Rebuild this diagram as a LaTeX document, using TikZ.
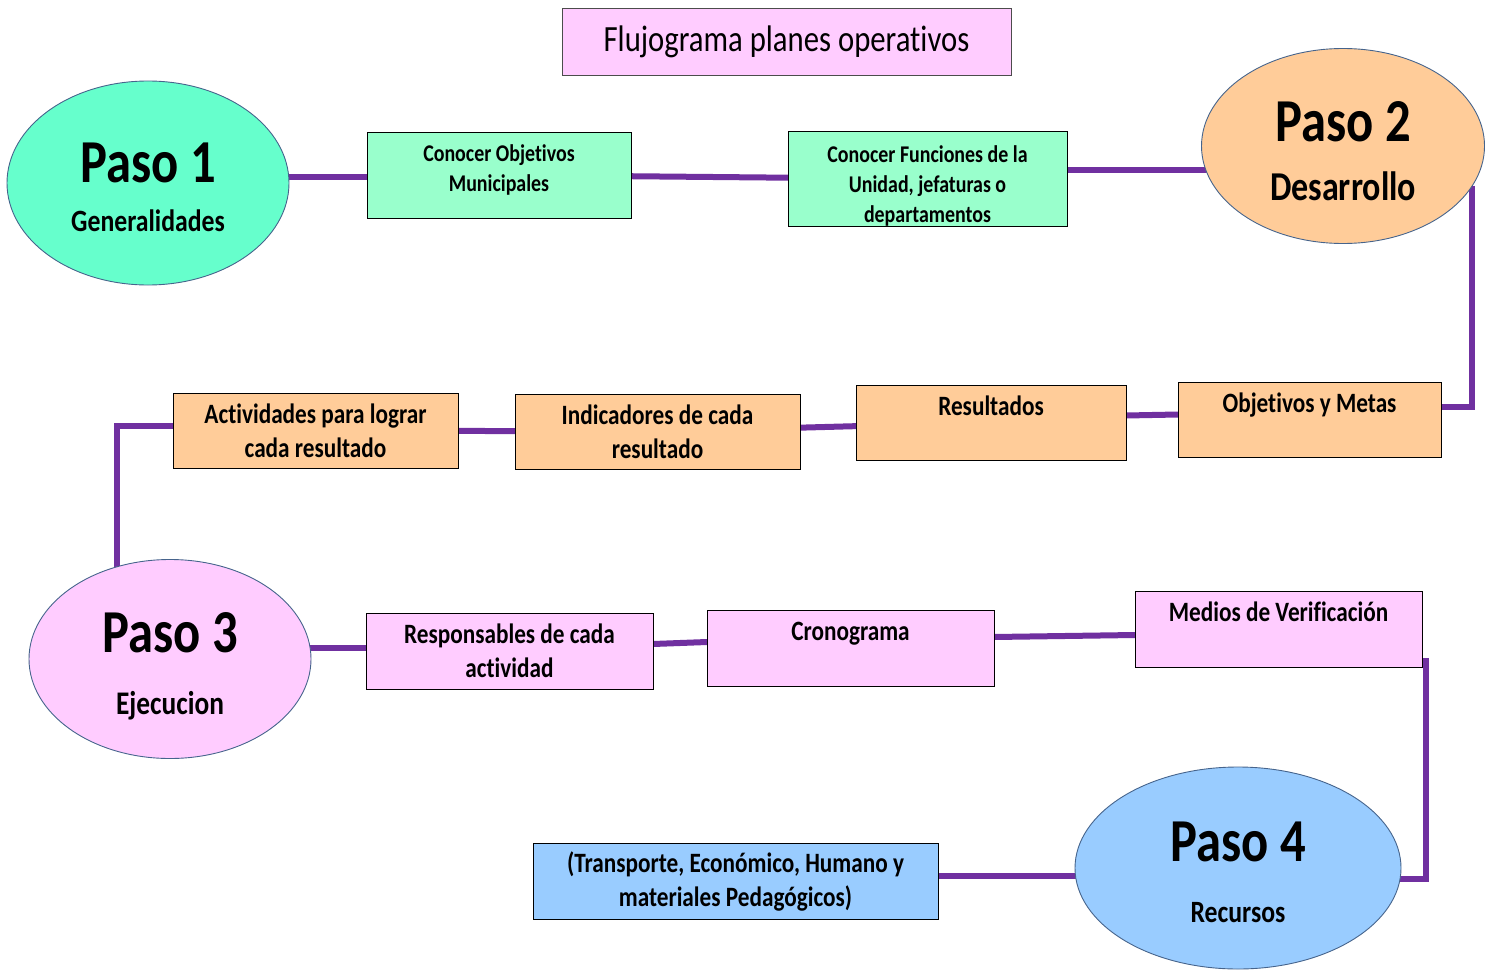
\documentclass[tikz,border=0pt]{standalone}
\usepackage{fontspec}
\setmainfont{Carlito}[FakeStretch=0.83,Ligatures=NoCommon]
\usetikzlibrary{shapes.geometric,calc,backgrounds}

\definecolor{linkc}{HTML}{7030A0}
\definecolor{mint}{HTML}{66FFCC}
\definecolor{palegreen}{HTML}{99FFCC}
\definecolor{peach}{HTML}{FFCC99}
\definecolor{lilac}{HTML}{FFCCFF}
\definecolor{skyblue}{HTML}{99CCFF}
\definecolor{rimc}{RGB}{70,100,140}

\begin{document}
\begin{tikzpicture}[x=1pt,y=1pt,yscale=-1,
  paso/.style={ellipse,draw=rimc,line width=0.9pt,inner sep=0pt,outer sep=0pt},
  pasotxt/.style={font=\bfseries\fontsize{61}{61}\selectfont},
  subtxt/.style={font=\bfseries\fontsize{#1}{#1}\selectfont},
  box/.style={draw=black,line width=0.8pt,inner sep=0pt,outer sep=0pt,align=center,
    font=\bfseries\fontsize{28}{34}\selectfont},
  smallbox/.style={box,font=\bfseries\fontsize{24}{30}\selectfont},
  link/.style={draw=linkc,line width=6pt}]
\useasboundingbox (0,0) rectangle (1495,971);

% Title
\node [box,fill=lilac,draw=black!70,minimum width=449,minimum height=67,
  font=\fontsize{37}{37}\selectfont] (title) at (786.5,41.5) {Flujograma planes operativos};

% Paso 1
\node [paso,fill=mint,minimum width=282,minimum height=204] (p1) at (148,183) {};
\node [pasotxt] (p1a) at (148,163) {Paso 1};
\node [subtxt=31] (p1b) at (148,221) {Generalidades};
% Paso 2
\node [paso,fill=peach,minimum width=283,minimum height=195] (p2) at (1343,146) {};
\node [pasotxt] (p2a) at (1343,122) {Paso 2};
\node [subtxt=41] (p2b) at (1343,186) {Desarrollo};
% Paso 3
\node [paso,fill=lilac,minimum width=282,minimum height=199] (p3) at (170,659) {};
\node [pasotxt] (p3a) at (170,633) {Paso 3};
\node [subtxt=33] (p3b) at (170,706) {Ejecucion};
% Paso 4
\node [paso,fill=skyblue,minimum width=326,minimum height=202] (p4) at (1238,868) {};
\node [pasotxt] (p4a) at (1238,842) {Paso 4};
\node [subtxt=31] (p4b) at (1238,913) {Recursos};

% Row 1
\node [smallbox,fill=palegreen,minimum width=264,minimum height=86] (objmun) at (499,175)
  {Conocer Objetivos\\Municipales\\[-16pt]\mbox{}};
\node [smallbox,fill=palegreen,minimum width=279,minimum height=92] (funciones) at (927.5,179)
  {\rule{0pt}{31pt}Conocer Funciones de la\\Unidad, jefaturas o\\departamentos};
% Row 2
\node [box,fill=peach,minimum width=263,minimum height=75] (metas) at (1309.5,419.5)
  {Objetivos y Metas\\\mbox{}};
\node [box,fill=peach,minimum width=270,minimum height=75] (result) at (991,422.5)
  {Resultados\\\mbox{}};
\node [box,fill=peach,minimum width=285,minimum height=75] (indic) at (657.5,431.5)
  {Indicadores de cada\\resultado};
\node [box,fill=peach,minimum width=285,minimum height=75] (activ) at (315.5,430.5)
  {Actividades para lograr\\cada resultado};
% Row 3
\node [box,fill=lilac,minimum width=287,minimum height=76] (resp) at (509.5,651)
  {Responsables de cada\\actividad};
\node [box,fill=lilac,minimum width=287,minimum height=76] (crono) at (850.5,648)
  {Cronograma\\\mbox{}};
\node [box,fill=lilac,minimum width=287,minimum height=76] (medios) at (1278.5,629)
  {Medios de Verificación\\\mbox{}};
% Row 4
\node [box,fill=skyblue,minimum width=405,minimum height=76] (recur) at (735.5,881)
  {(Transporte, Económico, Humano y\\materiales Pedagógicos)};

% Connector ends
\coordinate (c1) at ($(objmun.west)+(0,2)$);
\coordinate (c2) at ($(funciones.east)+(0,-9)$);
\coordinate (c3) at ($(resp.west)+(0,-3)$);
\coordinate (c4) at ($(recur.east)+(0,-5)$);

% Connectors
\begin{scope}[on background layer]
\draw [link] (c1) -- (c1 -| p1.center);
\draw [link] (objmun) -- (funciones);
\draw [link] (c2) -- (c2 -| p2.center);
\draw [link] (p2.-17.5) |- ($(metas.east)+(0,-13)$);
\draw [link] ($(metas.west)+(0,-5)$) -- ($(result.east)+(0,-7)$);
\draw [link] (result) -- (indic);
\draw [link] (indic) -- (activ);
\draw [link] ($(activ.west)+(0,-5)$) -| (p3.120);
\draw [link] (c3) -- (c3 -| p3.center);
\draw [link] ($(resp.east)+(0,-7)$) -- ($(crono.west)+(0,-6)$);
\draw [link] ($(crono.east)+(0,-11)$) -- ($(medios.west)+(0,6)$);
\draw [link] ($(medios.south east)+(0,-6)$) -- ++(4,0) |- (p4.-4);
\draw [link] (c4) -- (c4 -| p4.center);
\end{scope}

\end{tikzpicture}
\end{document}
